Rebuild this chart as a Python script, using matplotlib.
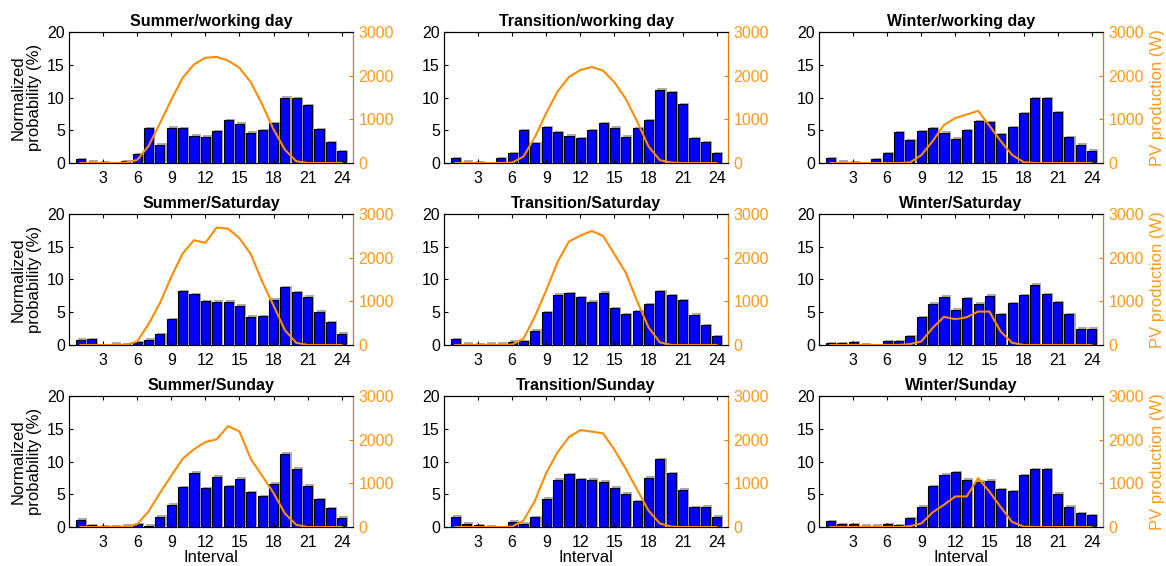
import matplotlib.pyplot as plt
import matplotlib.patheffects as pe
import numpy as np

plt.rcParams["font.family"] = ["Liberation Sans", "DejaVu Sans"]
plt.rcParams["font.size"] = 11.5

hours = np.arange(1, 25)
seasons = ["Summer", "Transition", "Winter"]
days = ["working day", "Saturday", "Sunday"]

# normalized probability (%) per interval, rows = day type, cols = season
prob_summer_work = [0.6, 0.2, 0.1, 0.0, 0.3, 1.3, 5.3, 2.8, 5.4, 5.3, 4.2, 4.0,
                    4.9, 6.5, 6.0, 4.6, 5.0, 6.1, 10.0, 9.9, 8.8, 5.2, 3.2, 1.8]
prob_trans_work = [0.7, 0.2, 0.1, 0.0, 0.7, 1.5, 5.0, 3.0, 5.5, 4.7, 4.2, 3.8,
                   5.0, 6.1, 5.4, 4.0, 5.3, 6.5, 11.2, 10.8, 9.0, 3.8, 3.2, 1.5]
prob_winter_work = [0.7, 0.2, 0.1, 0.0, 0.6, 1.5, 4.7, 3.5, 4.9, 5.3, 4.6, 3.7,
                    5.0, 6.4, 6.2, 4.4, 5.5, 7.6, 9.9, 9.9, 7.8, 3.9, 2.8, 1.9]
prob_summer_sat = [0.8, 0.9, 0.0, 0.2, 0.1, 0.4, 0.8, 1.6, 3.9, 8.2, 7.8, 6.7,
                   6.6, 6.6, 6.0, 4.3, 4.4, 6.9, 8.8, 8.1, 7.4, 5.1, 3.5, 1.7]
prob_trans_sat = [0.9, 0.2, 0.1, 0.2, 0.2, 0.5, 0.6, 2.2, 5.0, 7.7, 7.9, 7.3,
                  6.6, 8.0, 5.6, 4.7, 5.2, 6.2, 8.2, 7.6, 6.8, 4.6, 3.0, 1.3]
prob_winter_sat = [0.3, 0.3, 0.4, 0.1, 0.0, 0.6, 0.6, 1.3, 4.2, 6.3, 7.4, 5.4,
                   7.1, 6.3, 7.5, 4.7, 6.4, 7.6, 9.2, 7.8, 6.5, 4.7, 2.5, 2.5]
prob_summer_sun = [1.1, 0.3, 0.1, 0.1, 0.2, 0.4, 0.2, 1.6, 3.4, 6.1, 8.3, 5.9,
                   7.7, 6.2, 7.4, 5.3, 4.7, 6.6, 11.2, 8.9, 6.3, 4.2, 2.9, 1.4]
prob_trans_sun = [1.6, 0.5, 0.3, 0.1, 0.0, 0.8, 0.5, 1.5, 4.3, 7.2, 8.1, 7.3,
                  7.2, 6.9, 6.0, 5.1, 3.9, 7.5, 10.4, 8.2, 5.7, 3.0, 3.1, 1.6]
prob_winter_sun = [0.9, 0.4, 0.4, 0.2, 0.2, 0.4, 0.3, 1.3, 3.1, 6.2, 8.0, 8.4,
                   7.2, 6.9, 7.1, 5.8, 5.5, 7.9, 8.8, 8.8, 5.1, 3.1, 2.1, 1.8]

# PV production (W) per interval
pv_summer_work = [0, 0, 0, 0, 10, 70, 390, 910, 1450, 1950, 2260, 2410,
                  2430, 2345, 2180, 1850, 1340, 770, 305, 40, 0, 0, 0, 0]
pv_trans_work = [0, 0, 0, 0, 0, 10, 150, 595, 1145, 1640, 1970, 2130,
                 2200, 2115, 1850, 1470, 950, 380, 65, 10, 0, 0, 0, 0]
pv_winter_work = [0, 0, 0, 0, 0, 0, 0, 10, 180, 500, 870, 1030,
                  1110, 1195, 855, 500, 185, 20, 0, 0, 0, 0, 0, 0]
pv_summer_sat = [0, 0, 0, 0, 0, 80, 480, 960, 1560, 2095, 2400, 2340,
                 2690, 2665, 2445, 2080, 1450, 905, 340, 50, 0, 0, 0, 0]
pv_trans_sat = [0, 0, 0, 0, 0, 10, 145, 655, 1255, 1905, 2370, 2505,
                2610, 2500, 2080, 1655, 1000, 405, 60, 0, 0, 0, 0, 0]
pv_winter_sat = [0, 0, 0, 0, 0, 0, 0, 20, 80, 390, 645, 590,
                 635, 765, 765, 305, 50, 0, 0, 0, 0, 0, 0, 0]
pv_summer_sun = [0, 0, 0, 0, 0, 65, 355, 780, 1175, 1560, 1780, 1945,
                 2010, 2310, 2190, 1555, 1175, 780, 310, 50, 0, 0, 0, 0]
pv_trans_sun = [0, 0, 0, 0, 0, 10, 150, 600, 1240, 1715, 2060, 2220,
                2185, 2145, 1770, 1330, 855, 375, 80, 10, 0, 0, 0, 0]
pv_winter_sun = [0, 0, 0, 0, 0, 0, 0, 20, 80, 335, 510, 700,
                 700, 1120, 810, 455, 115, 10, 0, 0, 0, 0, 0, 0]

prob_grid = [[prob_summer_work, prob_trans_work, prob_winter_work],
             [prob_summer_sat, prob_trans_sat, prob_winter_sat],
             [prob_summer_sun, prob_trans_sun, prob_winter_sun]]
pv_grid = [[pv_summer_work, pv_trans_work, pv_winter_work],
           [pv_summer_sat, pv_trans_sat, pv_winter_sat],
           [pv_summer_sun, pv_trans_sun, pv_winter_sun]]

orange_line = "#ff8c00"
orange_text = "#ff9a1a"
orange_spine = "#e08000"

fig = plt.figure(figsize=(11.66, 5.66), dpi=100)

col_left = [0.0592, 0.3808, 0.7024]
row_bottom = [0.712, 0.3905, 0.0689]
width, height = 0.2436, 0.2314

shadow = [pe.SimplePatchShadow(offset=(1.5, 1.0), shadow_rgbFace="0.6", alpha=0.8), pe.Normal()]

for r in range(3):
    for c in range(3):
        ax = fig.add_axes([col_left[c], row_bottom[r], width, height])
        bars = ax.bar(hours, prob_grid[r][c], width=0.8, color="#0000ff",
                      edgecolor="black", linewidth=0.8)
        for b in bars:
            b.set_path_effects(shadow)
        ax.set_xlim(0, 25)
        ax.set_ylim(0, 20)
        ax.set_xticks(range(3, 25, 3))
        ax.set_yticks(range(0, 21, 5))
        ax.tick_params(direction="in", top=True, length=3, width=0.8, labelsize=11.5, pad=3)
        ax.tick_params(axis="x", pad=6)
        ax.set_title(f"{seasons[c]}/{days[r]}", fontweight="bold", fontsize=11.5, pad=4)
        if c == 0:
            ax.set_ylabel("Normalized\nprobability (%)", fontsize=12, labelpad=4, linespacing=1.1)
        if r == 2:
            ax.set_xlabel("Interval", fontsize=12, labelpad=0)

        ax2 = ax.twinx()
        ax2.plot(hours, pv_grid[r][c], color=orange_line, linewidth=1.5)
        ax2.set_ylim(0, 3000)
        ax2.set_yticks(range(0, 3001, 1000))
        ax2.tick_params(direction="in", length=3, width=0.8, colors=orange_spine,
                        labelcolor=orange_text, labelsize=11.5, pad=4)
        ax2.spines["right"].set_color(orange_spine)
        if c == 2:
            ax2.set_ylabel("PV production (W)", color=orange_text, fontsize=12, labelpad=4)

fig.savefig("out.png", dpi=100)
